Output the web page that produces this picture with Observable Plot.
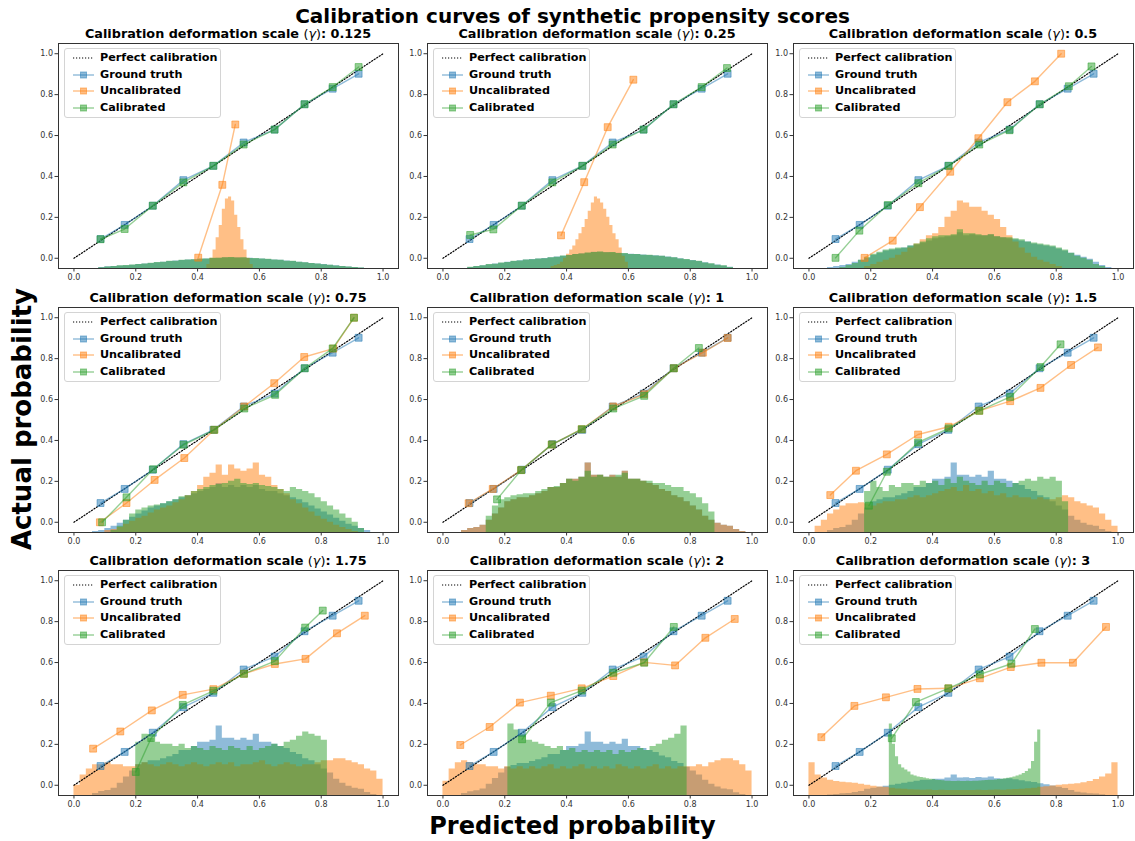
<!DOCTYPE html>
<html><head><meta charset="utf-8">
<script src="https://cdn.jsdelivr.net/npm/d3@7"></script>
<script src="https://cdn.jsdelivr.net/npm/@observablehq/plot@0.6"></script>
<style>
body{margin:0;background:#fff;}
#fig{position:relative;width:1135px;height:841px;font-family:"DejaVu Sans",sans-serif;overflow:hidden;background:#fff;color:#000;}
.abs{position:absolute;}
.ptitle{font-weight:bold;font-size:12.8px;text-align:center;white-space:nowrap;line-height:14px;}
.legend{border:1px solid #d4d4d4;border-radius:3px;background:rgba(255,255,255,0.8);box-sizing:border-box;}
.lrow{position:absolute;height:16px;font-weight:bold;font-size:11.2px;line-height:16px;white-space:nowrap;}
</style></head><body><div id="fig"></div>
<script>
// ---------- data ----------
const gammaLabels = ["0.125","0.25","0.5","0.75","1","1.5","1.75","2","3"];
const legendLabels = ["Perfect calibration","Ground truth","Uncalibrated","Calibrated"];
const tickValues = [0,0.2,0.4,0.6,0.8,1.0];
const perfectX = [0,1], perfectY = [0,1];

const gtX = [0.086,0.164,0.255,0.354,0.451,0.549,0.649,0.746,0.837,0.921];
const gtY = [0.094,0.163,0.257,0.382,0.452,0.566,0.629,0.753,0.829,0.902];

const uncX = [
 [0.402,0.48,0.522],
 [0.382,0.457,0.533,0.616],
 [0.18,0.271,0.359,0.457,0.548,0.642,0.731,0.816],
 [0.084,0.17,0.261,0.357,0.454,0.551,0.648,0.745,0.839,0.906],
 [0.083,0.161,0.253,0.352,0.449,0.551,0.651,0.747,0.841,0.921],
 [0.069,0.152,0.252,0.353,0.452,0.551,0.651,0.749,0.848,0.935],
 [0.062,0.15,0.252,0.352,0.451,0.55,0.65,0.749,0.851,0.941],
 [0.056,0.151,0.249,0.349,0.449,0.551,0.651,0.751,0.849,0.944],
 [0.04,0.147,0.249,0.351,0.451,0.553,0.653,0.752,0.854,0.961]];
const uncY = [
 [0.003,0.359,0.654],
 [0.112,0.372,0.641,0.873],
 [0.002,0.086,0.25,0.423,0.587,0.763,0.865,1.0],
 [0.0,0.094,0.207,0.314,0.452,0.566,0.68,0.808,0.849,1.0],
 [0.093,0.163,0.255,0.38,0.455,0.566,0.626,0.753,0.829,0.901],
 [0.133,0.252,0.332,0.429,0.467,0.545,0.592,0.657,0.769,0.855],
 [0.179,0.263,0.366,0.442,0.47,0.545,0.593,0.618,0.743,0.829],
 [0.197,0.285,0.404,0.438,0.474,0.534,0.601,0.586,0.721,0.813],
 [0.235,0.388,0.43,0.471,0.474,0.523,0.578,0.599,0.599,0.774]];
const calX = [
 [0.086,0.164,0.255,0.354,0.451,0.549,0.649,0.746,0.837,0.921],
 [0.088,0.163,0.255,0.354,0.451,0.549,0.649,0.746,0.837,0.919],
 [0.086,0.163,0.255,0.354,0.452,0.551,0.649,0.747,0.841,0.914],
 [0.091,0.17,0.256,0.355,0.454,0.551,0.651,0.747,0.837,0.906],
 [0.175,0.253,0.352,0.449,0.551,0.651,0.747,0.828],
 [0.194,0.252,0.353,0.452,0.551,0.651,0.749,0.814],
 [0.2,0.25,0.352,0.451,0.55,0.65,0.748,0.805],
 [0.256,0.349,0.449,0.551,0.651,0.747],
 [0.268,0.346,0.451,0.553,0.655,0.731]];
const calY = [
 [0.093,0.143,0.257,0.371,0.452,0.556,0.629,0.753,0.837,0.935],
 [0.114,0.141,0.257,0.371,0.452,0.556,0.629,0.753,0.837,0.93],
 [0.002,0.135,0.26,0.367,0.452,0.556,0.626,0.753,0.841,0.938],
 [0.0,0.122,0.259,0.379,0.452,0.556,0.623,0.753,0.85,1.0],
 [0.112,0.255,0.38,0.455,0.556,0.618,0.753,0.852],
 [0.081,0.247,0.39,0.459,0.545,0.613,0.759,0.87],
 [0.065,0.231,0.393,0.462,0.545,0.607,0.771,0.854],
 [0.225,0.404,0.463,0.55,0.599,0.774],
 [0.23,0.407,0.474,0.542,0.594,0.764]];

// histogram bins: start of first bin and bin width per panel, [ground truth, uncalibrated, calibrated]
const histX0 = [[0.08,0.43,0.08],[0.08,0.35,0.08],[0.06,0.18,0.10],[0.06,0.10,0.12],[0.06,0.06,0.14],
                [0.06,0.02,0.18],[0.06,0.00,0.20],[0.06,0.00,0.21],[0.06,0.00,0.26]];
const histW  = [[0.02,0.01,0.02],[0.02,0.01,0.02],[0.02,0.02,0.02],[0.02,0.02,0.02],[0.02,0.02,0.02],
                [0.02,0.02,0.02],[0.02,0.02,0.02],[0.02,0.02,0.02],[0.02,0.02,0.01]];
// bar heights (twin axis, same for all panels: 0 .. 1.1)
const gtBase = [.01,.02,.025,.035,.06,.09,.12,.15,.16,.17,.17,.18,.19,.2,.22,.22,.24,.26,.26,.27,.34,.28,.28,.27,.28,.27,.3,.26,.26,.25,.24,.23,.21,.2,.18,.17,.15,.13,.11,.08,.06,.045,.035,.03,.015,.005];
const histGT = [
 [.005,.008,.01,.012,.014,.016,.019,.022,.025,.028,.031,.034,.037,.039,.041,.043,.045,.047,.049,.05,.052,.053,.052,.051,.05,.048,.046,.044,.042,.04,.037,.034,.031,.028,.025,.022,.019,.016,.013,.01,.007,.005,.003],
 [.005,.01,.014,.018,.022,.026,.03,.034,.038,.041,.044,.046,.049,.052,.056,.06,.064,.068,.072,.075,.079,.08,.078,.077,.074,.072,.07,.068,.066,.064,.062,.06,.056,.052,.048,.043,.039,.034,.028,.022,.017,.012,.006],
 [.005,.01,.015,.02,.03,.04,.05,.065,.075,.085,.09,.095,.1,.11,.115,.125,.135,.145,.15,.155,.16,.175,.16,.165,.16,.16,.165,.155,.15,.145,.14,.135,.13,.12,.115,.11,.105,.095,.085,.075,.065,.055,.045,.03,.015,.005],
 [.005,.01,.02,.03,.045,.06,.075,.09,.105,.12,.13,.14,.15,.16,.17,.18,.19,.2,.21,.22,.24,.22,.23,.22,.23,.22,.23,.21,.2,.2,.19,.18,.17,.16,.145,.13,.115,.1,.085,.07,.055,.04,.03,.02,.01],
 gtBase, gtBase, gtBase,
 [.01,.018,.023,.032,.055,.083,.11,.138,.147,.156,.156,.166,.175,.184,.2,.2,.22,.24,.24,.25,.31,.26,.26,.25,.26,.25,.275,.24,.24,.23,.22,.21,.193,.184,.166,.156,.138,.12,.1,.074,.055,.041,.032,.028,.014,.005],
 [.003,.005,.008,.01,.015,.02,.03,.035,.04,.045,.05,.055,.06,.065,.07,.075,.075,.08,.08,.085,.1,.085,.087,.083,.088,.085,.09,.082,.08,.082,.077,.072,.067,.063,.058,.053,.047,.04,.034,.024,.016,.012,.009,.007,.004]];
const histUnc = [
 [.02,.05,.09,.15,.21,.29,.34,.35,.33,.26,.2,.14,.09,.05,.02],
 [.01,.015,.02,.03,.05,.07,.09,.11,.14,.17,.2,.24,.28,.32,.35,.34,.32,.29,.25,.21,.17,.14,.1,.06,.03],
 [.01,.02,.03,.04,.05,.065,.08,.1,.12,.14,.16,.17,.2,.25,.28,.33,.32,.3,.3,.28,.26,.24,.2,.16,.13,.1,.075,.055,.04,.03,.02,.01],
 [.01,.015,.025,.04,.055,.07,.08,.095,.11,.12,.13,.145,.16,.18,.2,.23,.27,.29,.33,.28,.33,.31,.3,.31,.34,.28,.27,.23,.21,.19,.16,.14,.12,.1,.08,.065,.05,.035,.025,.015,.005],
 gtBase,
 [.03,.06,.09,.11,.13,.14,.14,.145,.14,.13,.14,.15,.15,.16,.16,.17,.18,.17,.18,.19,.2,.21,.22,.2,.23,.2,.21,.19,.2,.18,.19,.17,.18,.17,.17,.16,.17,.16,.16,.17,.18,.17,.15,.14,.13,.12,.09,.06,.03],
 [.05,.1,.13,.15,.15,.16,.15,.15,.14,.14,.15,.16,.15,.14,.15,.16,.15,.14,.15,.16,.15,.14,.15,.16,.15,.16,.14,.15,.15,.16,.17,.15,.14,.15,.16,.15,.14,.15,.15,.16,.17,.17,.18,.18,.17,.16,.15,.13,.12,.08],
 [.07,.13,.16,.17,.16,.15,.15,.14,.14,.13,.14,.13,.14,.13,.14,.13,.14,.15,.13,.14,.13,.14,.15,.13,.14,.13,.14,.13,.15,.14,.13,.14,.13,.14,.15,.13,.14,.13,.14,.14,.14,.15,.14,.16,.17,.18,.18,.17,.15,.12],
 [.16,.1,.085,.075,.068,.065,.062,.06,.055,.05,.045,.042,.04,.035,.032,.03,.028,.027,.026,.027,.025,.026,.025,.024,.025,.024,.025,.026,.025,.026,.027,.026,.028,.029,.031,.033,.036,.04,.043,.047,.05,.053,.055,.058,.062,.068,.078,.09,.105,.16]];
const histCal = [
 [.004,.007,.01,.013,.015,.017,.02,.022,.026,.029,.031,.035,.036,.04,.042,.043,.046,.047,.05,.05,.053,.054,.051,.052,.049,.049,.046,.045,.041,.04,.036,.035,.03,.028,.024,.022,.018,.016,.012,.01,.007,.005,.002],
 [.006,.01,.013,.019,.021,.027,.029,.035,.037,.042,.043,.047,.048,.053,.055,.061,.063,.069,.071,.076,.078,.081,.077,.078,.073,.073,.069,.069,.065,.065,.061,.06,.055,.053,.047,.044,.038,.035,.027,.023,.016,.013,.005],
 [.005,.015,.025,.04,.055,.07,.08,.09,.095,.1,.1,.11,.12,.13,.145,.155,.16,.16,.165,.19,.17,.17,.165,.16,.165,.155,.15,.15,.145,.14,.13,.125,.12,.115,.11,.1,.09,.075,.06,.05,.04,.02,.01],
 [.01,.03,.06,.09,.11,.12,.13,.135,.14,.15,.16,.175,.18,.2,.21,.22,.23,.235,.24,.25,.26,.24,.235,.24,.23,.225,.22,.21,.2,.22,.21,.2,.19,.17,.15,.13,.11,.09,.07,.05,.02],
 [.08,.13,.16,.17,.18,.185,.19,.19,.2,.21,.22,.225,.24,.26,.25,.27,.3,.27,.28,.27,.27,.28,.29,.26,.26,.25,.25,.24,.24,.23,.22,.22,.2,.19,.17,.14,.1],
 [.2,.25,.22,.2,.23,.22,.24,.24,.23,.25,.24,.25,.23,.26,.24,.27,.25,.24,.23,.25,.23,.25,.24,.22,.24,.25,.26,.25,.27,.26,.27,.25,.15],
 [.26,.3,.28,.26,.25,.25,.24,.25,.23,.24,.23,.22,.24,.23,.22,.24,.23,.22,.24,.22,.23,.24,.25,.24,.26,.27,.29,.31,.3,.29,.27],
 [.35,.32,.3,.27,.26,.25,.24,.23,.24,.22,.23,.21,.22,.21,.22,.21,.22,.2,.22,.21,.22,.23,.22,.24,.25,.27,.28,.3,.34],
 [.35,.25,.19,.15,.135,.125,.115,.1,.095,.09,.088,.085,.082,.08,.078,.075,.073,.072,.07,.07,.069,.068,.07,.068,.069,.07,.068,.07,.07,.071,.072,.073,.074,.075,.076,.078,.08,.082,.084,.087,.09,.095,.1,.108,.117,.13,.166,.26,.32]];

// ---------- layout & style ----------
const fig = document.getElementById("fig");
const colLeft = [58, 427, 793], rowTop = [43, 307, 570];
const FW = 340, FH = 225;
const ML = 30, MR = 4, MT = 5, MB = 18;
const axisDomain = [-0.05, 1.05];
const histDomain = [0, 1.1];
const colors = ["#1f77b4", "#ff7f0e", "#2ca02c"];
const fmt = d3.format(".1f");

function place(el, left, top) {
  el.style.position = "absolute";
  el.style.left = left + "px";
  el.style.top = top + "px";
  fig.appendChild(el);
}
function textDiv(html, cls, css) {
  const d = document.createElement("div");
  d.className = cls || "";
  d.innerHTML = html;
  Object.assign(d.style, css || {});
  fig.appendChild(d);
  return d;
}

textDiv("Calibration curves of synthetic propensity scores", "abs",
  {left: "0px", top: "3px", width: "1145px", textAlign: "center", fontWeight: "bold", fontSize: "20px", lineHeight: "26px"});
textDiv("Predicted probability", "abs",
  {left: "0px", top: "810px", width: "1145px", textAlign: "center", fontWeight: "bold", fontSize: "24px", lineHeight: "32px"});
textDiv("Actual probability", "abs",
  {left: "-178px", top: "403px", width: "400px", textAlign: "center", fontWeight: "bold", fontSize: "26px", lineHeight: "32px", transform: "rotate(-90deg)", transformOrigin: "50% 50%"});

function swatch(i) {
  if (i === 0) return `<svg width="22" height="12"><line x1="0" x2="21" y1="6" y2="6" stroke="#000" stroke-width="1.2" stroke-dasharray="1.2,1.8"/></svg>`;
  const c = colors[i - 1];
  return `<svg width="22" height="12"><line x1="0" x2="21" y1="6" y2="6" stroke="${c}" stroke-opacity="0.5" stroke-width="1.4"/><rect x="7.5" y="3" width="6" height="6" fill="${c}" fill-opacity="0.5" stroke="${c}" stroke-opacity="0.5"/></svg>`;
}

for (let p = 0; p < 9; p++) {
  const r = Math.floor(p / 3), c = p % 3;
  const left = colLeft[c], top = rowTop[r];

  // histograms on twin axis
  const histSeries = [histGT[p], histUnc[p], histCal[p]];
  const histMarks = histSeries.map((h, k) => {
    const x0 = histX0[p][k], w = histW[p][k];
    const pts = h.map((v, i) => ({x: x0 + i * w, lo: 0, hi: v}));
    pts.push({x: x0 + h.length * w, lo: 0, hi: 0});
    return Plot.area(pts, {x1: "x", y1: "lo", y2: "hi", curve: "step-after", fill: colors[k], fillOpacity: 0.5});
  });
  const hp = Plot.plot({
    width: FW + ML + MR, height: FH + MT + MB,
    marginLeft: ML, marginRight: MR, marginTop: MT, marginBottom: MB,
    x: {domain: axisDomain, axis: null},
    y: {domain: histDomain, axis: null},
    style: {background: "transparent"},
    marks: histMarks
  });
  place(hp, left - ML, top - MT);

  // calibration curves
  const perfect = perfectX.map((x, i) => ({x, y: perfectY[i]}));
  const gt = gtX.map((x, i) => ({x, y: gtY[i]}));
  const unc = uncX[p].map((x, i) => ({x, y: uncY[p][i]}));
  const cal = calX[p].map((x, i) => ({x, y: calY[p][i]}));
  const curveMarks = [];
  curveMarks.push(Plot.line(perfect, {x: "x", y: "y", stroke: "#000", strokeWidth: 1.2, strokeDasharray: "1.2,1.8"}));
  [gt, unc, cal].forEach((d, k) => {
    curveMarks.push(Plot.line(d, {x: "x", y: "y", stroke: colors[k], strokeOpacity: 0.5, strokeWidth: 1.4}));
    curveMarks.push(Plot.dot(d, {x: "x", y: "y", symbol: "square", r: 3.9, fill: colors[k], fillOpacity: 0.5, stroke: colors[k], strokeOpacity: 0.5, strokeWidth: 1}));
  });
  curveMarks.push(Plot.frame({stroke: "#333", strokeWidth: 1}));
  const cp = Plot.plot({
    width: FW + ML + MR, height: FH + MT + MB,
    marginLeft: ML, marginRight: MR, marginTop: MT, marginBottom: MB,
    x: {domain: axisDomain, ticks: tickValues, tickFormat: fmt, tickSize: 3.5, tickPadding: 2, label: null},
    y: {domain: axisDomain, ticks: tickValues, tickFormat: fmt, tickSize: 3.5, tickPadding: 2, label: null},
    style: {background: "transparent", fontFamily: "DejaVu Sans", fontSize: "8px", color: "#333"},
    marks: curveMarks
  });
  place(cp, left - ML, top - MT);

  // subplot title
  textDiv(`Calibration deformation scale <span style="font-weight:normal">(<i>γ</i>)</span>: ${gammaLabels[p]}`, "abs ptitle",
    {left: left + "px", top: (top - 16) + "px", width: FW + "px"});

  // legend
  const lg = document.createElement("div");
  lg.className = "legend";
  Object.assign(lg.style, {width: "157px", height: "70px"});
  legendLabels.forEach((lab, i) => {
    const row = document.createElement("div");
    row.className = "lrow";
    row.style.top = (1 + i * 16.5) + "px";
    row.style.left = "8px";
    row.innerHTML = `<span style="display:inline-block;width:27px;vertical-align:middle;line-height:0">${swatch(i)}</span>${lab}`;
    lg.appendChild(row);
  });
  place(lg, left + 6, top + 5);
}
</script></body></html>
